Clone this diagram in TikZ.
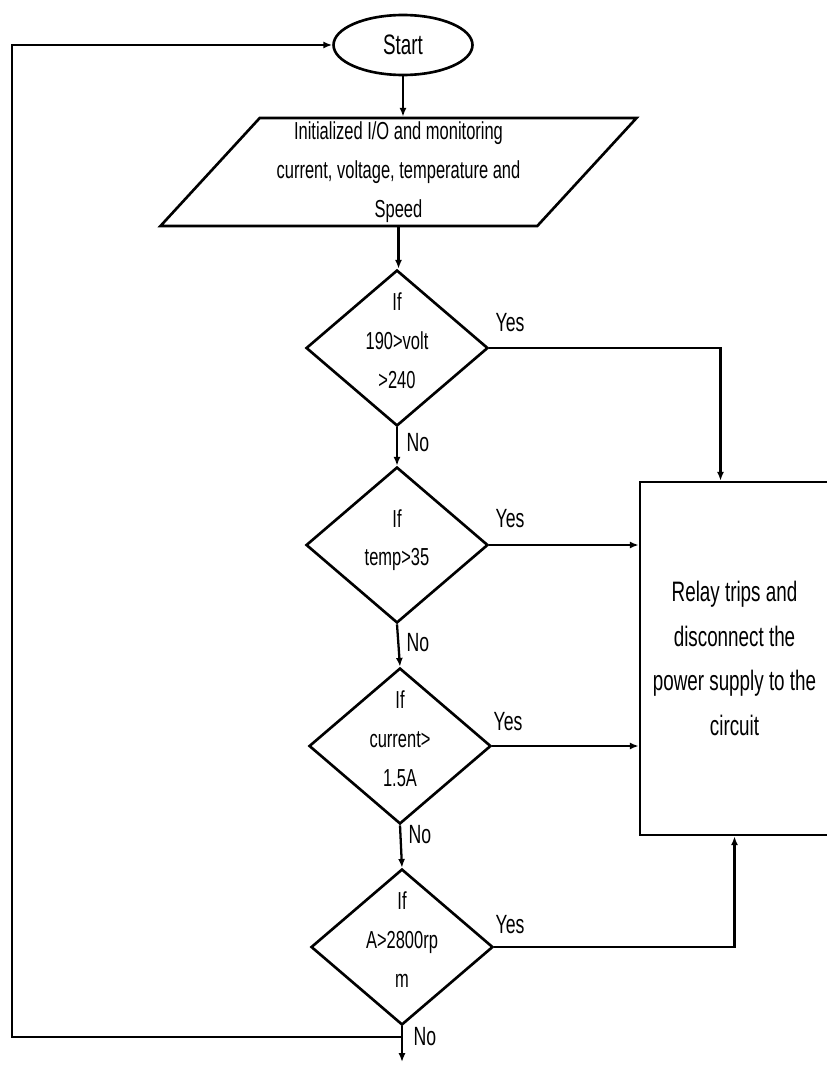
\documentclass[tikz,border=0pt]{standalone}
\usepackage{fontspec}
\setmainfont{Liberation Sans}[FakeStretch=0.67]
\usetikzlibrary{shapes.geometric,arrows.meta,calc}

\tikzset{
  base/.style={draw, line width=1.5pt, inner sep=0pt, font=\fontsize{14}{22}\selectfont},
  startnode/.style={base, ellipse, minimum width=2.78cm, minimum height=1.2cm,
    font=\fontsize{16}{20}\selectfont},
  ionode/.style={base, trapezium, trapezium left angle=49, trapezium right angle=131,
    trapezium stretches=true, minimum width=9.54cm, minimum height=2.16cm, align=center},
  decision/.style={base, diamond, minimum width=3.64cm, minimum height=3.12cm},
  relaybox/.style={base, rectangle, minimum width=3.78cm, minimum height=7.06cm,
    align=center, font=\fontsize{16}{25.5}\selectfont},
  lbl/.style={font=\fontsize{15}{17}\selectfont, inner sep=1pt},
  flow/.style={line width=1.3pt, ->},
}
\newcommand{\dtext}[1]{\smash{\begin{tabular}{@{}c@{}}#1\end{tabular}}}

\begin{document}
\begin{tikzpicture}[x=0.02cm, y=-0.02cm, >={Latex[length=5pt,width=4pt]}]
  \useasboundingbox (0,0) rectangle (827,1068);

  %% start and input
  \node[startnode] (start) at (403,45) {Start};
  \node[ionode] (io) at (398.5,172)
    {Initialized I/O and monitoring\\current, voltage, temperature and\\Speed};

  %% checks
  \node[decision] (d1) at (397,348) {\dtext{If\\190>volt\\>240}};
  \node[decision] (d2) at (397,545) {\dtext{If\\temp>35}};
  \node[decision] (d3) at (400,746) {\dtext{If\\current>\\1.5A}};
  \node[decision] (d4) at (402,947) {\dtext{If\\A>2800rp\\m}};

  %% relay
  \node[relaybox] (relay) at (734.5,658.5)
    {Relay trips and\\disconnect the\\power supply to the\\circuit};

  %% Yes / No
  \foreach \i/\xa/\ya in {1/510/323, 2/510/519, 3/508/722, 4/510/925}
    \node[lbl] (yes\i) at (\xa,\ya) {Yes};
  \foreach \i/\xa/\ya in {1/418/443, 2/418/643, 3/420/835, 4/425/1037}
    \node[lbl] (no\i) at (\xa,\ya) {No};

  %% main flow
  \draw[flow] (start.south) -- (start.south |- io.north);
  \draw[flow] (io.south) -- (io.south |- d1.north);
  \draw[flow] (d1.south) -- (d2.north);
  \draw[flow] (d2.south) -- (d3.north);
  \draw[flow] (d3.south) -- (d4.north);
  \coordinate (endpt) at (402,1062);
  \draw[flow] (d4.south) -- (endpt);

  %% to relay
  \draw[flow] (d1.east) -| ($(relay.north)+(-14,0)$);
  \draw[flow] (d2.east) -- (d2.east -| relay.west);
  \draw[flow] (d3.east) -- (d3.east -| relay.west);
  \draw[flow] (d4.east) -| (relay.south);

  %% back to start
  \coordinate (loopcorner) at (12,1037);
  \draw[flow] (d4.south |- loopcorner) -- (loopcorner) |- (start.west);
\end{tikzpicture}
\end{document}
